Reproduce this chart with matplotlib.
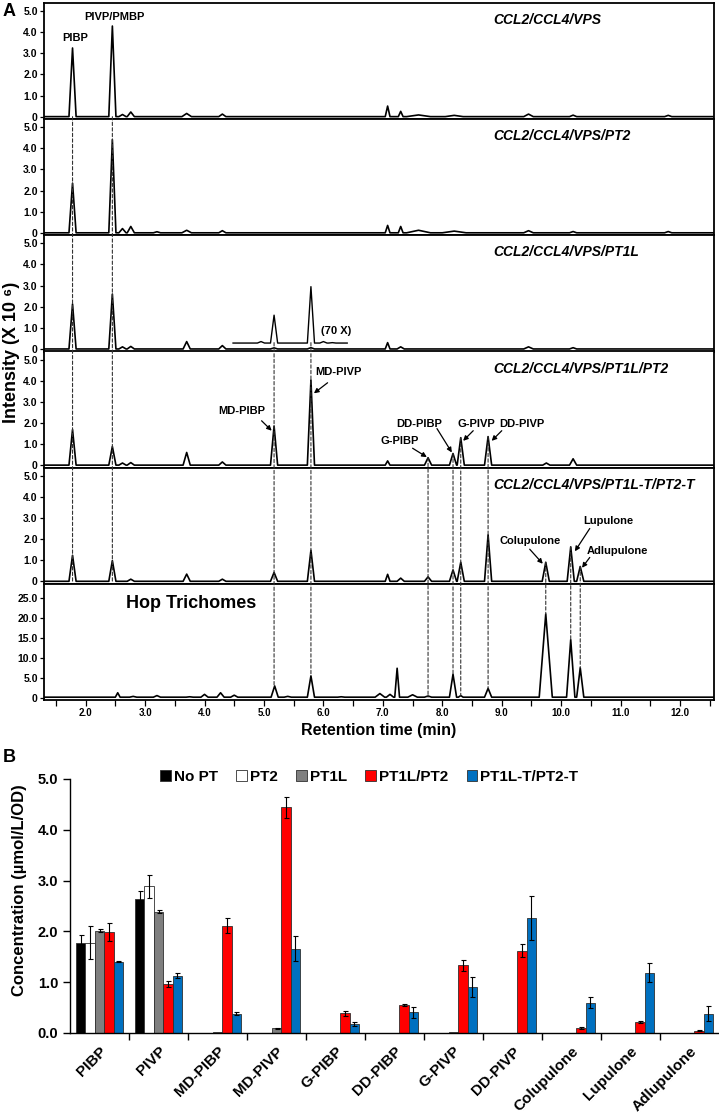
import matplotlib.pyplot as plt
import numpy as np
from matplotlib.patches import ConnectionPatch, Patch

plt.rcParams['font.family'] = ['Liberation Sans', 'DejaVu Sans']
plt.rcParams['font.weight'] = 'bold'

# ---- panel A: chromatogram peaks (retention time, intensity[, half width]) ----
titles = ['CCL2/CCL4/VPS', 'CCL2/CCL4/VPS/PT2', 'CCL2/CCL4/VPS/PT1L',
          'CCL2/CCL4/VPS/PT1L/PT2', 'CCL2/CCL4/VPS/PT1L-T/PT2-T']
peaks_vps = [(1.78, 3.25), (2.45, 4.29), (2.62, 0.1), (2.76, 0.22, 0.06), (3.7, 0.15, 0.08),
             (4.3, 0.12, 0.06), (7.08, 0.5, 0.04), (7.3, 0.25, 0.04), (7.6, 0.08, 0.2),
             (8.2, 0.06, 0.15), (9.45, 0.12, 0.08), (10.2, 0.07), (11.8, 0.06)]
peaks_pt2 = [(1.78, 2.35), (2.45, 4.41), (2.62, 0.2), (2.76, 0.3), (3.2, 0.05), (3.7, 0.12, 0.08),
             (4.3, 0.1), (7.08, 0.35, 0.04), (7.3, 0.3, 0.04), (7.6, 0.12, 0.2), (8.2, 0.08, 0.2),
             (9.45, 0.1, 0.08), (10.2, 0.06), (11.8, 0.06)]
peaks_pt1l = [(1.78, 2.13), (2.45, 2.6), (2.62, 0.1), (2.76, 0.12, 0.06), (3.7, 0.35, 0.06),
              (4.3, 0.16, 0.06), (5.17, 0.05), (5.79, 0.06), (7.08, 0.3, 0.04), (7.3, 0.1),
              (9.45, 0.1, 0.08), (10.2, 0.06)]
peaks_pt1l_70x = [(4.95, 0.35), (5.17, 1.6), (5.79, 2.95), (6.0, 0.35), (6.15, 0.3)]
peaks_pt1l_pt2 = [(1.78, 1.68), (2.45, 0.88), (2.62, 0.1), (2.76, 0.12), (3.7, 0.6), (4.3, 0.15),
                  (5.17, 1.85), (5.79, 4.03), (7.08, 0.2, 0.04), (7.76, 0.35), (8.18, 0.55),
                  (8.31, 1.3), (8.77, 1.35), (9.75, 0.1), (10.2, 0.3)]
peaks_trunc = [(1.78, 1.23), (2.45, 0.98), (2.76, 0.1), (3.7, 0.34), (4.3, 0.1), (5.17, 0.42),
               (5.79, 1.47), (7.08, 0.33, 0.04), (7.3, 0.15), (7.76, 0.21), (8.18, 0.54),
               (8.31, 0.9), (8.77, 2.2), (9.74, 0.9), (10.16, 1.63), (10.32, 0.7)]
peaks_hop = [(2.54, 1.4, 0.04), (2.8, 0.5), (3.2, 0.7), (3.75, 0.4), (4.0, 1.0),
             (4.27, 1.4), (4.5, 0.8), (5.18, 3.1), (5.4, 0.5), (5.79, 5.6),
             (6.3, 0.4), (6.95, 1.2, 0.08), (7.12, 1.0), (7.24, 7.5, 0.04), (7.5, 0.9, 0.08),
             (7.76, 0.6), (8.18, 6.0), (8.31, 0.7, 0.04), (8.77, 2.5), (9.74, 21.0, 0.11),
             (10.16, 14.6, 0.07), (10.32, 7.6)]

# dashed guides: (rt, from panel, y, to panel, y)
guides = [(1.78, 0, 0.0, 4, 0.0), (2.45, 0, 0.0, 4, 0.0),
          (5.17, 2, 0.3, 5, 3.1), (5.79, 2, 0.3, 5, 5.6),
          (7.76, 3, 0.35, 5, 0.3), (8.18, 3, 0.55, 5, 6.0), (8.31, 3, 1.3, 5, 0.7),
          (8.77, 3, 1.35, 5, 2.5), (9.74, 4, 0.9, 5, 21.0), (10.16, 4, 1.63, 5, 14.6),
          (10.32, 4, 0.7, 5, 7.6)]

# ---- panel B: concentrations ----
compounds = ['PIBP', 'PIVP', 'MD-PIBP', 'MD-PIVP', 'G-PIBP', 'DD-PIBP', 'G-PIVP', 'DD-PIVP',
             'Colupulone', 'Lupulone', 'Adlupulone']
series = ['No PT', 'PT2', 'PT1L', 'PT1L/PT2', 'PT1L-T/PT2-T']
no_pt = [1.78, 2.63, 0, 0, 0, 0, 0, 0, 0, 0, 0]
no_pt_err = [0.14, 0.17, 0, 0, 0, 0, 0, 0, 0, 0, 0]
pt2 = [1.78, 2.89, 0, 0, 0, 0, 0, 0, 0, 0, 0]
pt2_err = [0.32, 0.23, 0, 0, 0, 0, 0, 0, 0, 0, 0]
pt1l = [2.01, 2.39, 0.01, 0.09, 0, 0, 0.01, 0, 0, 0, 0]
pt1l_err = [0.03, 0.03, 0, 0.01, 0, 0, 0, 0, 0, 0, 0]
pt1l_pt2 = [1.99, 0.97, 2.11, 4.44, 0.39, 0.55, 1.33, 1.62, 0.10, 0.22, 0.04]
pt1l_pt2_err = [0.18, 0.06, 0.15, 0.21, 0.05, 0.02, 0.10, 0.13, 0.02, 0.02, 0.01]
trunc = [1.40, 1.13, 0.38, 1.66, 0.18, 0.41, 0.91, 2.26, 0.60, 1.19, 0.38]
trunc_err = [0.01, 0.05, 0.03, 0.24, 0.04, 0.11, 0.20, 0.43, 0.11, 0.18, 0.15]
colors = ['black', 'white', '#7f7f7f', '#ff0000', '#0070c0']


def trace(peaks, x0=1.3, x1=12.6, base=0.0):
    xs, ys = [x0], [base]
    for p in sorted(peaks):
        w = p[2] if len(p) > 2 else 0.06
        xs += [p[0] - w, p[0], p[0] + w]
        ys += [base, p[1], base]
    xs.append(x1)
    ys.append(base)
    return xs, ys


fig = plt.figure(figsize=(7.19, 11.17), dpi=100)

left, width = 44 / 719, 670 / 719
top, bottom = 1 - 3 / 1117, 1 - 700 / 1117
h = (top - bottom) / 6
axes = []
all_peaks = [peaks_vps, peaks_pt2, peaks_pt1l, peaks_pt1l_pt2, peaks_trunc, peaks_hop]
for i in range(6):
    ax = fig.add_axes([left, top - (i + 1) * h, width, h])
    xs, ys = trace(all_peaks[i], base=0.3 if i == 5 else 0.0)
    ax.plot(xs, ys, color='black', lw=1.2)
    ax.set_xlim(1.3, 12.57)
    if i < 5:
        ax.set_ylim(-0.12, 5.38)
        ax.set_yticks(range(6))
        ax.set_yticklabels(['0', '1.0', '2.0', '3.0', '4.0', '5.0'])
        ax.text(8.85, 0.853, titles[i], transform=ax.get_xaxis_transform(), fontsize=10,
                fontstyle='italic', fontweight='bold', va='center', ha='left')
        ax.tick_params(axis='x', bottom=False, labelbottom=False)
    else:
        ax.set_ylim(-0.4, 28.5)
        ax.set_yticks(range(0, 26, 5))
        ax.set_yticklabels(['0', '5.0', '10.0', '15.0', '20.0', '25.0'])
        ax.text(3.78, 23.5, 'Hop Trichomes', fontsize=13, fontweight='bold', ha='center', va='center')
        ticks = np.arange(1.5, 12.51, 0.5)
        ax.set_xticks(ticks)
        ax.set_xticklabels(['%.1f' % t if t % 1 == 0 else '' for t in ticks])
        ax.tick_params(axis='x', length=4, width=0.9, labelsize=7, pad=2)
    ax.tick_params(axis='y', length=3, width=0.9, labelsize=7.5, pad=1.5)
    for s in ax.spines.values():
        s.set_linewidth(1.3)
    axes.append(ax)

# 70X inset trace
xs, ys = trace(peaks_pt1l_70x, x0=4.48, x1=6.4, base=0.28)
axes[2].plot(xs, ys, color='black', lw=1.0)
axes[2].text(6.22, 0.84, '(70 X)', fontsize=8, ha='center', va='center')

# peak labels
axes[0].text(1.83, 3.73, 'PIBP', fontsize=8, ha='center', va='center')
axes[0].text(2.49, 4.72, 'PIVP/PMBP', fontsize=8, ha='center', va='center')

arrow = dict(arrowstyle='-|>', color='black', lw=0.9, mutation_scale=7, shrinkA=0, shrinkB=0)
labels4 = [('MD-PIBP', 4.63, 2.55, (4.96, 2.1), (5.13, 1.63), 'center'),
           ('MD-PIVP', 5.86, 4.4, (6.07, 3.9), (5.84, 3.4), 'left'),
           ('G-PIBP', 7.29, 1.15, (7.5, 0.8), (7.74, 0.38), 'center'),
           ('DD-PIBP', 7.61, 1.97, (7.91, 1.73), (8.16, 0.6), 'center'),
           ('G-PIVP', 8.58, 1.97, (8.52, 1.63), (8.35, 1.15), 'center'),
           ('DD-PIVP', 9.34, 1.97, (9.0, 1.63), (8.83, 1.15), 'center')]
for name, tx, ty, tail, tip, ha in labels4:
    axes[3].text(tx, ty, name, fontsize=8, ha=ha, va='center')
    axes[3].annotate('', xy=tip, xytext=tail, arrowprops=arrow)

labels5 = [('Colupulone', 9.47, 1.91, (9.47, 1.52), (9.69, 0.83)),
           ('Lupulone', 10.79, 2.84, (10.48, 2.5), (10.23, 1.42)),
           ('Adlupulone', 10.94, 1.42, (10.48, 1.13), (10.35, 0.64))]
for name, tx, ty, tail, tip in labels5:
    axes[4].text(tx, ty, name, fontsize=8, ha='center', va='center')
    axes[4].annotate('', xy=tip, xytext=tail, arrowprops=arrow)

for rt, a, ya, b, yb in guides:
    con = ConnectionPatch(xyA=(rt, ya), coordsA='data', axesA=axes[a],
                          xyB=(rt, yb), coordsB='data', axesB=axes[b],
                          color='#333333', lw=0.8, linestyle=(0, (3, 2)))
    fig.add_artist(con)

fig.text(12 / 719, 1 - 352 / 1117, 'Intensity (X 10 \u2076)', rotation=90, fontsize=13,
         ha='center', va='center')
fig.text(379 / 719, 1 - 730 / 1117, 'Retention time (min)', fontsize=11.5, ha='center', va='center')
fig.text(3 / 719, 1 - 12 / 1117, 'A', fontsize=13, ha='left', va='center')
fig.text(3 / 719, 1 - 758 / 1117, 'B', fontsize=13, ha='left', va='center')

# ---- panel B ----
axb = fig.add_axes([70 / 719, 1 - 1033 / 1117, 649 / 719, 254 / 1117])
vals = [no_pt, pt2, pt1l, pt1l_pt2, trunc]
errs = [no_pt_err, pt2_err, pt1l_err, pt1l_pt2_err, trunc_err]
x = np.arange(len(compounds))
bw = 0.16
for k in range(5):
    pos = x + (k - 2) * bw
    axb.bar(pos, vals[k], bw, color=colors[k], edgecolor='#303030', linewidth=0.6)
    e = np.array(errs[k])
    m = e > 0
    axb.errorbar(pos[m], np.array(vals[k])[m], yerr=e[m], fmt='none', ecolor='black',
                 elinewidth=0.8, capsize=1.8, capthick=0.8)
axb.set_xlim(-0.5, len(compounds) - 0.5)
axb.set_ylim(0, 5.0)
axb.set_yticks(np.arange(0, 5.1, 1.0))
axb.set_yticklabels(['%.1f' % v for v in np.arange(0, 5.1, 1.0)])
axb.set_xticks(x)
axb.set_xticklabels(compounds, rotation=45, ha='right', rotation_mode='anchor')
axb.set_xticks(np.arange(0.5, len(compounds) - 0.5, 1.0), minor=True)
axb.tick_params(axis='x', which='major', length=0, labelsize=11, pad=8)
axb.tick_params(axis='x', which='minor', length=5, width=1.0)
axb.tick_params(axis='y', length=5, width=1.0, labelsize=10.5)
axb.spines['top'].set_visible(False)
axb.spines['right'].set_visible(False)
axb.spines['left'].set_linewidth(1.0)
axb.spines['bottom'].set_linewidth(1.0)
fig.text(20 / 719, 1 - 890 / 1117, 'Concentration (\u00b5mol/L/OD)', rotation=90, fontsize=12,
         ha='center', va='center')

handles = [Patch(facecolor=c, edgecolor='#303030', linewidth=0.6) for c in colors]
fig.legend(handles, series, loc='center left', bbox_to_anchor=(160 / 719, 1 - 777 / 1117),
           ncol=5, frameon=False, fontsize=11, handlelength=0.7, handleheight=0.7,
           handletextpad=0.2, columnspacing=1.2, borderpad=0, borderaxespad=0)

fig.savefig('out.png', dpi=100)
